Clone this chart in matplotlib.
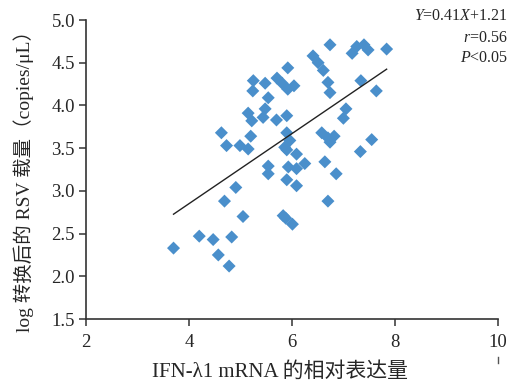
import matplotlib
matplotlib.use('Agg')
import matplotlib.pyplot as plt
from matplotlib.lines import Line2D
import numpy as np

plt.rcParams['font.family'] = ['Liberation Serif', 'Noto Sans CJK SC']
plt.rcParams['mathtext.fontset'] = 'custom'
plt.rcParams['mathtext.rm'] = 'Liberation Serif'
plt.rcParams['mathtext.it'] = 'Liberation Serif:italic'

# IFN-lambda1 mRNA relative expression vs log RSV load
ifn_expr = [3.70, 4.20, 4.47, 4.57, 4.78, 4.83, 4.69, 4.91, 5.05, 4.63,
            4.73, 4.99, 5.15, 5.20, 5.15, 5.22, 5.25, 5.24, 5.48, 5.54,
            5.48, 5.44, 5.70, 5.90, 5.71, 5.81, 5.92, 6.04, 5.92, 5.90,
            5.86, 5.96, 6.09, 5.90, 5.54, 5.54, 5.93, 6.09, 6.25, 5.90,
            6.09, 6.64, 6.86, 6.70, 5.83, 5.88, 6.01, 6.74, 6.41, 6.51,
            6.61, 6.70, 6.74, 7.17, 7.26, 7.40, 7.48, 7.84, 7.34, 7.64,
            7.05, 7.00, 6.58, 6.70, 6.82, 6.74, 7.55, 7.33]
rsv_load = [2.33, 2.47, 2.43, 2.25, 2.12, 2.46, 2.88, 3.04, 2.70, 3.68,
            3.53, 3.53, 3.49, 3.64, 3.91, 3.82, 4.29, 4.17, 4.26, 4.09,
            3.96, 3.86, 3.83, 3.88, 4.32, 4.26, 4.19, 4.23, 4.44, 3.68,
            3.51, 3.59, 3.43, 3.48, 3.29, 3.20, 3.28, 3.26, 3.32, 3.13,
            3.06, 3.34, 3.20, 2.88, 2.71, 2.68, 2.61, 4.71, 4.58, 4.50,
            4.41, 4.27, 4.15, 4.61, 4.69, 4.71, 4.65, 4.66, 4.29, 4.17,
            3.96, 3.85, 3.68, 3.62, 3.64, 3.57, 3.60, 3.46]
slope, intercept = 0.41, 1.21
x_ticks = [2, 4, 6, 8, 10]
y_ticks = [1.5, 2.0, 2.5, 3.0, 3.5, 4.0, 4.5, 5.0]

text_color = '#262626'

fig = plt.figure(figsize=(5.09, 3.85), dpi=100)
ax = fig.add_axes([0.169, 0.1714, 0.809, 0.7766])

ax.scatter(ifn_expr, rsv_load, marker='D', s=44, color='#4a8fcb',
           edgecolors='none', zorder=2)

# regression line over the data range
xl = np.array([min(ifn_expr), max(ifn_expr)])
ax.plot(xl, slope * xl + intercept, color='#222222', lw=1.0, zorder=3)

ax.set_xlim(2, 10)
ax.set_ylim(1.5, 5.0)
ax.set_xticks(x_ticks)
ax.set_xticklabels([str(t) for t in x_ticks])
ax.set_yticks(y_ticks)
ax.set_yticklabels([f'{t:.1f}' for t in y_ticks])

for s in ['top', 'right']:
    ax.spines[s].set_visible(False)
for s in ['left', 'bottom']:
    ax.spines[s].set_linewidth(1.2)
    ax.spines[s].set_color('#333333')
ax.tick_params(axis='both', direction='out', length=5, width=1.1,
               colors='#333333', labelcolor=text_color, labelsize=13.5)
ax.tick_params(axis='x', pad=6)
ax.tick_params(axis='y', pad=3)

fig.text(280 / 509, 1 - 372 / 385, 'IFN-λ1 mRNA 的相对表达量',
         ha='center', va='center', fontsize=15, color=text_color)
fig.text(24 / 509, 1 - 176 / 385, 'log 转换后的 RSV 载量（copies/μL）',
         ha='center', va='center', rotation=90, fontsize=14, color=text_color)

fig.text(0.998, 1 - 16 / 385, r'$Y$=0.41$X$+1.21', ha='right', va='center',
         fontsize=11.5, color=text_color)
fig.text(0.998, 1 - 38 / 385, r'$r$=0.56', ha='right', va='center',
         fontsize=11.5, color=text_color)
fig.text(0.998, 1 - 58 / 385, r'$P$<0.05', ha='right', va='center',
         fontsize=11.5, color=text_color)

# small stray mark under the last x tick label
fig.add_artist(Line2D([498 / 509, 498 / 509], [1 - 357 / 385, 1 - 363 / 385],
                      color='#555555', lw=1))

fig.savefig('out.png', dpi=100)
